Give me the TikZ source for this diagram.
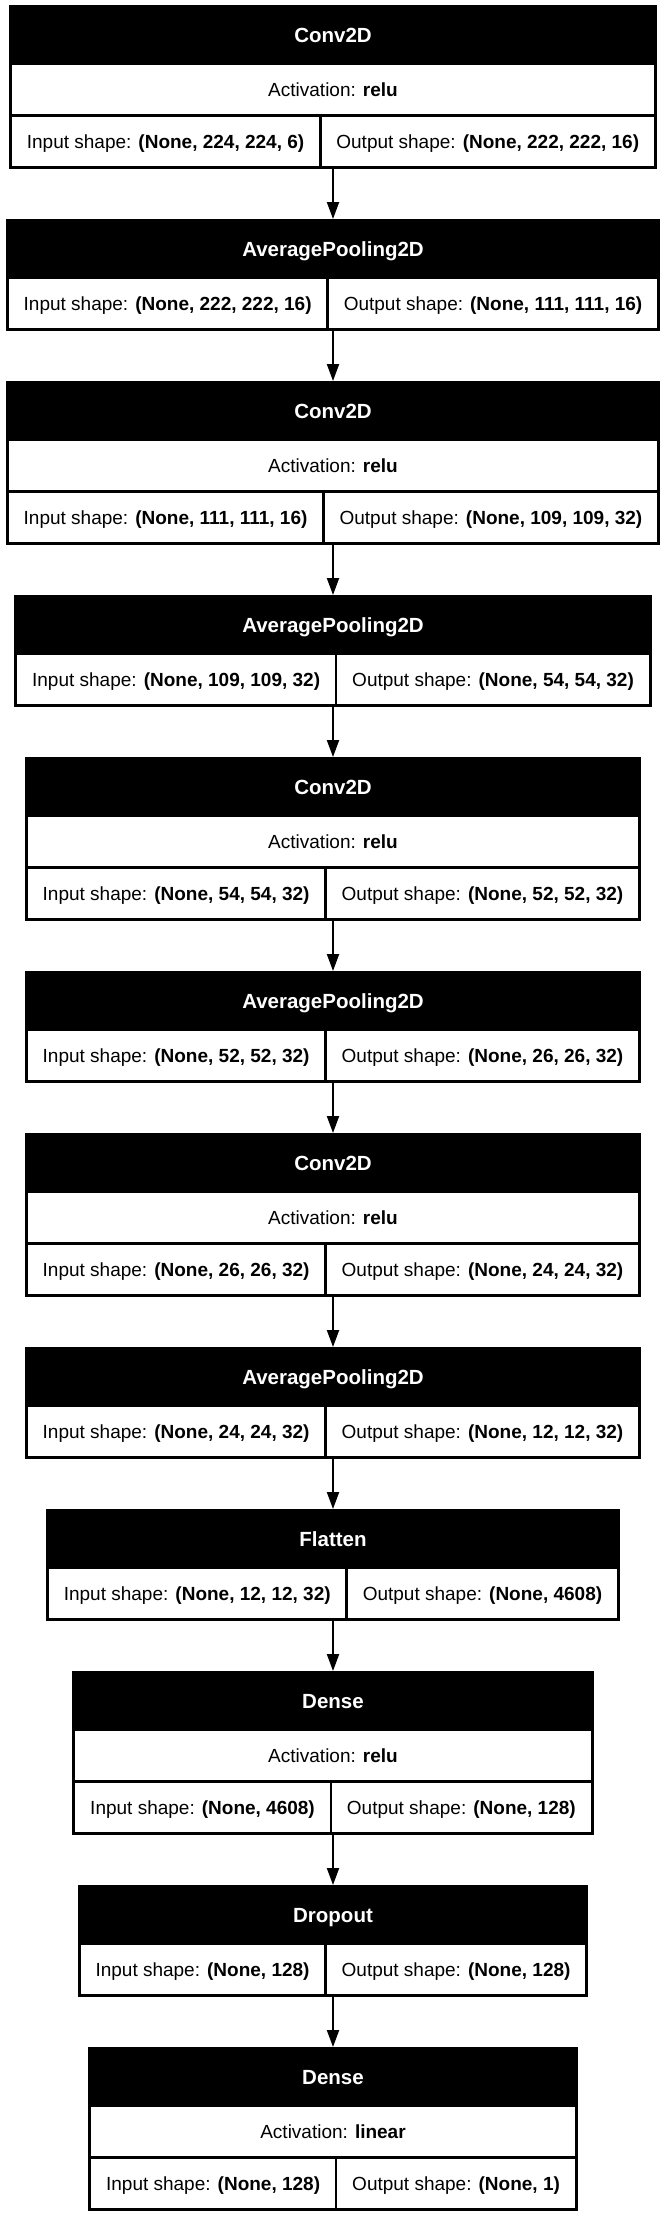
\documentclass[tikz,border=0pt]{standalone}
\usepackage{fontspec}
\setmainfont{Liberation Sans}
\usetikzlibrary{arrows.meta}
\newlength\mbLen
\newcommand\bodyfont{\fontsize{19}{23}\selectfont}
\newcommand\headfont{\fontsize{20.5}{24}\selectfont\bfseries}
\tikzset{
  outerbox/.style={fill=black, inner sep=0pt, anchor=north},
  headtext/.style={text=white, font=\headfont, inner sep=0pt, text height=14.7pt, text depth=0pt},
  cellbox/.style={fill=white, inner sep=0pt, font=\bodyfont, text height=13.6pt, text depth=0pt, minimum height=49pt},
  flow/.style={line width=2pt, -{Triangle[length=17pt,width=12pt]}}
}
\newcommand\prep[3]{%
  \settowidth\mbLen{\bodyfont Input shape: \textbf{#2}}%
  \expandafter\xdef\csname mwl#1\endcsname{\the\mbLen}%
  \settowidth\mbLen{\bodyfont Output shape: \textbf{#3}}%
  \expandafter\xdef\csname mwr#1\endcsname{\the\mbLen}}
\newcommand\mkbox[6]{%
  \pgfmathsetmacro\mbWl{\csname mwl#1\endcsname+34}%
  \pgfmathsetmacro\mbWr{\csname mwr#1\endcsname+34}%
  \pgfmathsetmacro\mbW{\mbWl+\mbWr}%
  \pgfmathsetmacro\mbXl{333-\mbW/2}%
  \pgfmathsetmacro\mbXr{333+\mbW/2}%
  \if\relax\detokenize{#4}\relax
    \def\mbH{112}\def\mbSy{#2+60}%
  \else
    \def\mbH{164}\def\mbSy{#2+112}%
  \fi
  \node[outerbox, minimum width=\mbW pt, minimum height=\mbH pt] (#1) at (333,#2) {};
  \node[headtext] (#1-t) at (333,#2+30) {#3};
  \if\relax\detokenize{#4}\relax\else
    \node[cellbox, anchor=north, minimum width=\mbW pt-6pt] (#1-a) at (333,#2+60) {Activation: \textbf{#4}};
  \fi
  \node[cellbox, anchor=north west, minimum width=\mbWl pt-4.5pt] (#1-i) at (\mbXl+3,\mbSy) {Input shape: \textbf{#5}};
  \node[cellbox, anchor=north east, minimum width=\mbWr pt-4.5pt] (#1-o) at (\mbXr-3,\mbSy) {Output shape: \textbf{#6}};
}
\begin{document}
\prep{b1}{(None, 224, 224, 6)}{(None, 222, 222, 16)}%
\prep{b2}{(None, 222, 222, 16)}{(None, 111, 111, 16)}%
\prep{b3}{(None, 111, 111, 16)}{(None, 109, 109, 32)}%
\prep{b4}{(None, 109, 109, 32)}{(None, 54, 54, 32)}%
\prep{b5}{(None, 54, 54, 32)}{(None, 52, 52, 32)}%
\prep{b6}{(None, 52, 52, 32)}{(None, 26, 26, 32)}%
\prep{b7}{(None, 26, 26, 32)}{(None, 24, 24, 32)}%
\prep{b8}{(None, 24, 24, 32)}{(None, 12, 12, 32)}%
\prep{b9}{(None, 12, 12, 32)}{(None, 4608)}%
\prep{b10}{(None, 4608)}{(None, 128)}%
\prep{b11}{(None, 128)}{(None, 128)}%
\prep{b12}{(None, 128)}{(None, 1)}%
\begin{tikzpicture}[x=1pt, y=-1pt]
\useasboundingbox (0,0) rectangle (664,2219);
\mkbox{b1}{5}{Conv2D}{relu}{(None, 224, 224, 6)}{(None, 222, 222, 16)}
\mkbox{b2}{219}{AveragePooling2D}{}{(None, 222, 222, 16)}{(None, 111, 111, 16)}
\mkbox{b3}{381}{Conv2D}{relu}{(None, 111, 111, 16)}{(None, 109, 109, 32)}
\mkbox{b4}{595}{AveragePooling2D}{}{(None, 109, 109, 32)}{(None, 54, 54, 32)}
\mkbox{b5}{757}{Conv2D}{relu}{(None, 54, 54, 32)}{(None, 52, 52, 32)}
\mkbox{b6}{971}{AveragePooling2D}{}{(None, 52, 52, 32)}{(None, 26, 26, 32)}
\mkbox{b7}{1133}{Conv2D}{relu}{(None, 26, 26, 32)}{(None, 24, 24, 32)}
\mkbox{b8}{1347}{AveragePooling2D}{}{(None, 24, 24, 32)}{(None, 12, 12, 32)}
\mkbox{b9}{1509}{Flatten}{}{(None, 12, 12, 32)}{(None, 4608)}
\mkbox{b10}{1671}{Dense}{relu}{(None, 4608)}{(None, 128)}
\mkbox{b11}{1885}{Dropout}{}{(None, 128)}{(None, 128)}
\mkbox{b12}{2047}{Dense}{linear}{(None, 128)}{(None, 1)}
\foreach \a/\b in {b1/b2,b2/b3,b3/b4,b4/b5,b5/b6,b6/b7,b7/b8,b8/b9,b9/b10,b10/b11,b11/b12}
  \draw[flow] (\a.south) -- (\b.north);
\end{tikzpicture}
\end{document}
